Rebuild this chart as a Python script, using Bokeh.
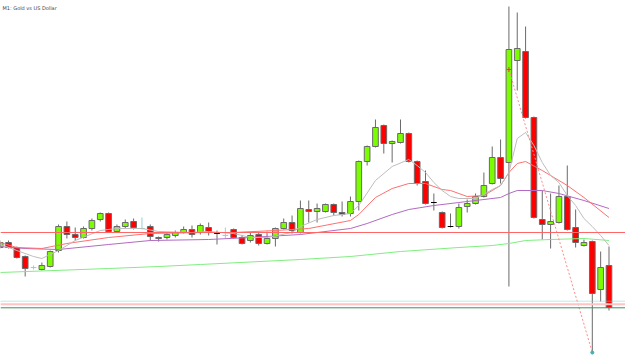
from bokeh.plotting import figure
from bokeh.models import Range1d, Label, Span
from bokeh.embed import file_html
from bokeh.resources import INLINE

# ---- data (Gold vs US Dollar, M1) ----
opens = [1931.1, 1931.6, 1931.1, 1930.2, 1929.1, 1928.9, 1929.2, 1930.8, 1933.2, 1932.4,
         1932.1, 1933.0, 1933.9, 1934.5, 1932.7, 1933.2, 1933.7, 1933.0, 1933.2, 1932.1,
         1932.1, 1932.3, 1932.6, 1932.9, 1932.6, 1933.1, 1932.5, 1932.3, 1932.9, 1932.1,
         1931.8, 1932.4, 1931.5, 1932.0, 1933.0, 1933.6, 1932.6, 1934.9, 1934.7, 1934.7,
         1935.4, 1934.6, 1934.5, 1935.7, 1939.7, 1941.2, 1943.3, 1941.5, 1941.6, 1942.5,
         1939.7, 1937.7, 1935.6, 1934.6, 1933.2, 1933.2, 1935.2, 1935.5, 1936.2, 1937.5,
         1940.1, 1939.6, 1949.8, 1950.7, 1944.1, 1933.9, 1933.4, 1933.6, 1936.2, 1933.1,
         1931.3, 1931.7, 1926.9, 1929.3]
highs = [1931.8, 1931.8, 1931.2, 1930.3, 1929.3, 1929.6, 1930.8, 1933.4, 1933.7, 1933.1,
         1933.2, 1934.0, 1934.6, 1934.6, 1933.4, 1933.9, 1934.0, 1934.1, 1933.4, 1932.2,
         1932.6, 1932.8, 1933.2, 1933.3, 1933.5, 1933.6, 1932.8, 1933.1, 1933.0, 1932.3,
         1932.6, 1932.6, 1932.7, 1933.1, 1934.0, 1934.3, 1935.8, 1935.8, 1935.5, 1935.5,
         1935.5, 1935.7, 1936.2, 1939.8, 1941.3, 1943.9, 1943.4, 1941.8, 1943.9, 1942.6,
         1939.8, 1938.8, 1936.5, 1934.7, 1934.5, 1935.5, 1935.9, 1936.5, 1938.6, 1941.2,
         1941.9, 1955.2, 1954.6, 1953.2, 1944.2, 1936.8, 1936.5, 1937.3, 1939.3, 1934.9,
         1931.9, 1931.8, 1930.7, 1931.2]
lows = [1931.0, 1931.0, 1930.0, 1928.2, 1928.9, 1928.8, 1929.1, 1930.6, 1932.0, 1931.8,
        1932.0, 1932.8, 1933.7, 1932.6, 1932.6, 1933.0, 1932.9, 1932.9, 1931.8, 1931.7,
        1931.9, 1932.1, 1932.5, 1932.1, 1932.4, 1932.3, 1931.4, 1932.0, 1932.0, 1931.4,
        1931.6, 1931.3, 1931.4, 1931.2, 1932.9, 1932.5, 1932.5, 1933.6, 1933.6, 1934.6,
        1934.3, 1934.2, 1934.2, 1934.8, 1939.3, 1941.1, 1940.5, 1939.6, 1941.5, 1939.6,
        1937.3, 1935.4, 1934.8, 1933.0, 1933.1, 1933.0, 1934.6, 1935.4, 1936.1, 1937.4,
        1937.5, 1927.2, 1946.8, 1944.0, 1934.0, 1931.9, 1931.0, 1933.5, 1932.8, 1931.1,
        1931.2, 1920.6, 1925.7, 1924.8]
closes = [1931.6, 1931.1, 1930.1, 1929.0, 1929.1, 1929.3, 1930.7, 1933.2, 1932.4, 1932.1,
          1933.0, 1933.8, 1934.5, 1932.7, 1933.2, 1933.6, 1933.1, 1933.0, 1932.2, 1932.0,
          1932.4, 1932.6, 1932.9, 1932.4, 1933.3, 1932.6, 1932.5, 1932.3, 1932.1, 1931.5,
          1932.3, 1931.5, 1932.0, 1933.0, 1933.6, 1932.8, 1935.0, 1934.7, 1935.0, 1935.4,
          1934.6, 1934.4, 1935.7, 1939.7, 1941.2, 1943.1, 1941.5, 1941.7, 1942.5, 1939.7,
          1937.5, 1935.5, 1935.6, 1933.1, 1933.2, 1935.1, 1935.5, 1936.2, 1937.3, 1940.1,
          1938.0, 1950.9, 1951.0, 1944.1, 1934.1, 1933.4, 1933.7, 1936.2, 1932.9, 1931.6,
          1931.6, 1926.5, 1929.1, 1925.1]
light_doji = [4, 17, 27]

ma_fast_idx = [0, 2, 4, 5, 7, 9, 12, 14, 17, 19, 23, 25, 28, 30, 32, 35, 36, 38, 40, 42,
               43, 45, 47, 49, 50, 51, 52, 53, 54, 55, 57, 58, 59, 60, 61, 62, 63, 64, 65,
               66, 67, 68, 69, 70, 71, 72, 73]
ma_fast = [1931.4, 1930.8, 1930.2, 1930.0, 1930.8, 1931.8, 1932.8, 1933.0, 1933.0, 1932.7,
           1932.6, 1932.7, 1932.5, 1932.1, 1932.1, 1932.6, 1933.2, 1933.9, 1934.3, 1934.5,
           1935.3, 1937.8, 1939.2, 1939.9, 1939.3, 1938.6, 1937.6, 1936.8, 1936.2, 1936.0,
           1936.0, 1936.4, 1936.9, 1937.3, 1938.6, 1942.0, 1942.6, 1941.3, 1939.6, 1938.3,
           1937.6, 1936.3, 1935.3, 1934.0, 1933.2, 1932.3, 1931.3]
ma_mid_idx = [0, 2, 5, 8, 13, 18, 24, 28, 33, 37, 42, 43, 45, 47, 49, 51, 53, 54, 56, 58,
              60, 61, 62, 63, 65, 66, 68, 70, 73]
ma_mid = [1931.6, 1931.1, 1931.0, 1931.5, 1932.1, 1932.5, 1932.6, 1932.6, 1932.8, 1933.0,
          1933.8, 1934.4, 1936.1, 1937.0, 1937.5, 1937.5, 1936.9, 1936.8, 1936.2, 1936.3,
          1937.3, 1938.6, 1939.5, 1939.7, 1938.8, 1938.3, 1937.3, 1936.1, 1934.1]
ma_slow_idx = [0, 3, 7, 13, 18, 25, 30, 36, 42, 44, 47, 49, 52, 55, 60, 61, 62, 65, 67, 70, 73]
ma_slow = [1931.2, 1931.0, 1930.9, 1931.4, 1931.8, 1931.9, 1932.1, 1932.4, 1933.0, 1933.5,
           1934.4, 1934.9, 1935.3, 1935.6, 1936.1, 1936.5, 1936.8, 1936.8, 1936.5, 1935.8,
           1935.0]
ma_long_idx = [0, 13, 19, 24, 36, 42, 48, 55, 59, 61, 63, 66, 70, 73]
ma_long = [1928.6, 1929.0, 1929.2, 1929.4, 1929.9, 1930.2, 1930.7, 1931.1, 1931.3, 1931.5,
           1931.8, 1931.9, 1932.0, 1931.8]

level_red = 1932.6
level_cyan = 1925.73
level_pink = 1925.42
level_green = 1925.07

trade_idx = [61, 71]
trade_price = [1948.9, 1920.6]

title = "M1:  Gold vs US Dollar"

# ---- figure ----
p = figure(width=625, height=358, output_backend="svg", toolbar_location=None,
           x_range=Range1d(0.04, 74.98), y_range=Range1d(1920.0, 1955.8),
           min_border=0, min_border_left=0, min_border_right=0,
           min_border_top=0, min_border_bottom=0)
p.xaxis.visible = False
p.yaxis.visible = False
p.xgrid.visible = False
p.ygrid.visible = False
p.outline_line_color = None
p.background_fill_color = "white"
p.border_fill_color = "white"

n = len(opens)
idx = list(range(n))
bw = 0.68

bull = [i for i in idx if closes[i] > opens[i]]
bear = [i for i in idx if closes[i] < opens[i]]
doji = [i for i in idx if closes[i] == opens[i]]
dark_doji = [i for i in doji if i not in light_doji]

wick_i = [i for i in idx if i not in light_doji]
p.segment(x0=wick_i, y0=[lows[i] for i in wick_i], x1=wick_i, y1=[highs[i] for i in wick_i],
          line_color="#6a6a6a", line_width=1)
p.segment(x0=light_doji, y0=[lows[i] for i in light_doji], x1=light_doji,
          y1=[highs[i] for i in light_doji], line_color="#8fd3d3", line_width=1)

p.vbar(x=bull, width=bw, bottom=[opens[i] for i in bull], top=[closes[i] for i in bull],
       fill_color="#7cfc00", line_color="#6a6a6a", line_width=1)
p.vbar(x=bear, width=bw, top=[opens[i] for i in bear], bottom=[closes[i] for i in bear],
       fill_color="#ff0000", line_color="#6a6a6a", line_width=1)
p.segment(x0=[i - bw / 2 for i in dark_doji], x1=[i + bw / 2 for i in dark_doji],
          y0=[opens[i] for i in dark_doji], y1=[opens[i] for i in dark_doji],
          line_color="#000000", line_width=1)
p.segment(x0=[i - bw / 2 for i in light_doji], x1=[i + bw / 2 for i in light_doji],
          y0=[opens[i] for i in light_doji], y1=[opens[i] for i in light_doji],
          line_color="#8fd3d3", line_width=1)

# horizontal levels
p.add_layout(Span(location=level_red, dimension="width", line_color="#ff6666", line_width=1))
p.add_layout(Span(location=level_cyan, dimension="width", line_color="#7fd0d6",
                  line_width=1, line_dash="1 1"))
p.add_layout(Span(location=level_pink, dimension="width", line_color="#ffc4c4", line_width=2))
p.add_layout(Span(location=level_green, dimension="width", line_color="#3f8f60", line_width=1))

# moving averages
p.line(ma_long_idx, ma_long, line_color="#80ee80", line_width=1)
p.line(ma_slow_idx, ma_slow, line_color="#b36ac4", line_width=1)
p.line(ma_mid_idx, ma_mid, line_color="#ff7070", line_width=1)
p.line(ma_fast_idx, ma_fast, line_color="#bdbdbd", line_width=1)

# trade line
p.line(trade_idx, trade_price, line_color="#ff8a8a", line_width=1, line_dash="2 2")
p.scatter([trade_idx[0]], [trade_price[0]], marker="cross", size=5, line_color="#ff3030",
          line_width=1)
p.scatter([trade_idx[1]], [trade_price[1]], marker="circle", size=3, fill_color="#40b0b0",
          line_color="#40b0b0")

p.add_layout(Label(x=2, y=351, x_units="screen", y_units="screen", text=title,
                   text_font_size="5px", text_color="#444444", text_baseline="middle",
                   text_font="DejaVu Sans"))

open("out.html", "w").write(file_html(p, INLINE))
